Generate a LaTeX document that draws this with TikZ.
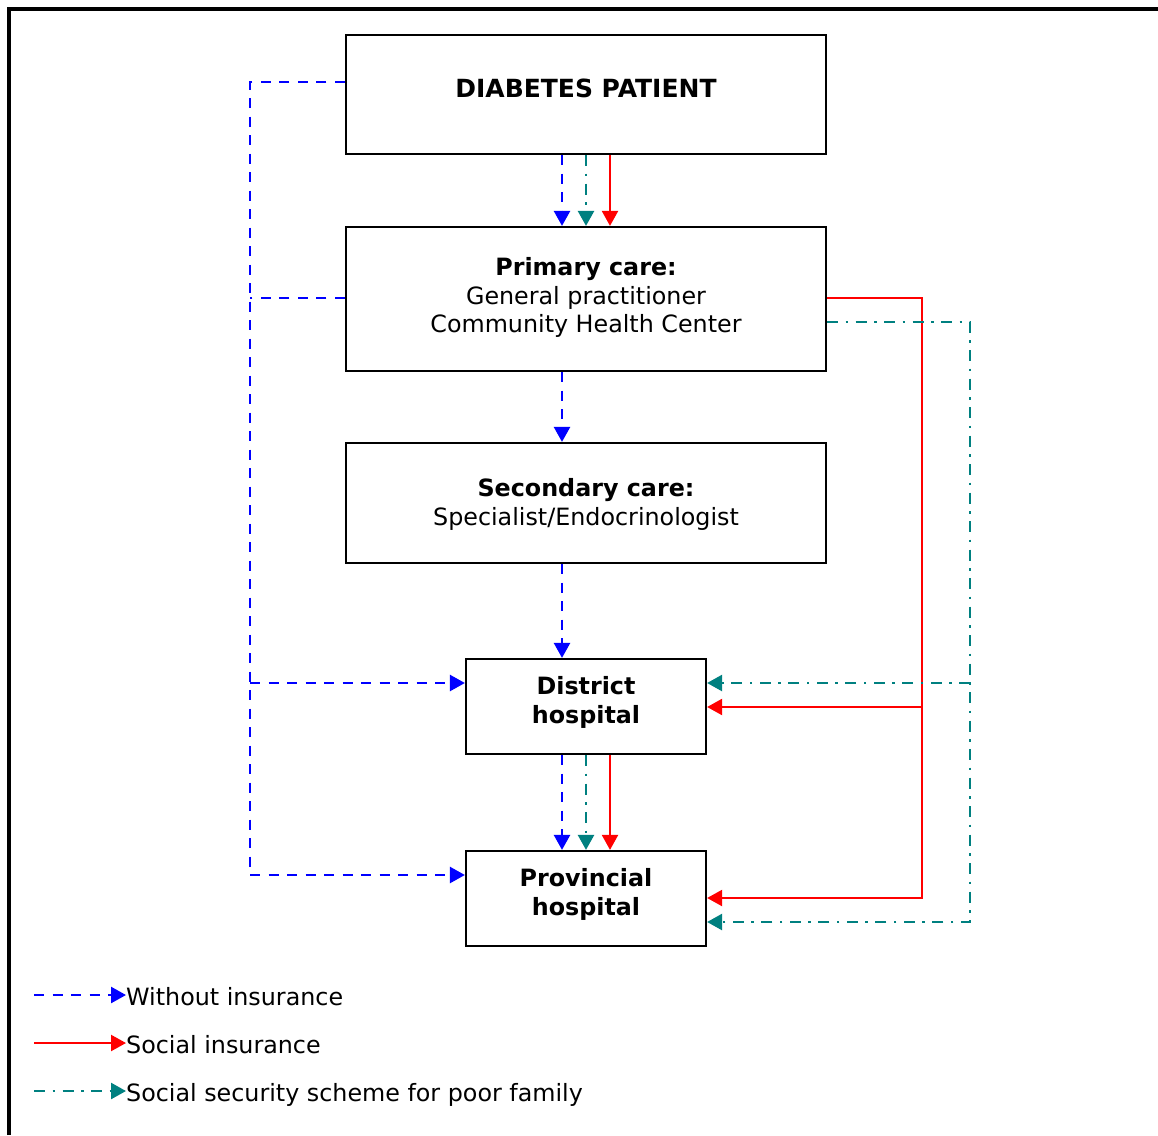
\documentclass[tikz,border=0pt]{standalone}
\usepackage{fontspec}
\setmainfont{DejaVu Sans}
\usetikzlibrary{arrows.meta}
\definecolor{tealc}{RGB}{0,128,128}
\newcommand\diafs{\fontsize{23.8}{28.8}\selectfont}
\begin{document}
\begin{tikzpicture}[x=1pt,y=-1pt,
  box/.style={draw=black,line width=2.2pt,inner sep=0pt,align=center,font=\diafs},
  wo/.style={blue,line width=2.5pt,dash pattern=on 10pt off 8.5pt},
  si/.style={red,line width=2.2pt},
  ss/.style={tealc,line width=2.5pt,dash pattern=on 11pt off 7.5pt on 2.5pt off 7.5pt},
  tip/.style={-{Triangle[length=15pt,width=16pt]}},
  legtext/.style={anchor=base west,inner sep=0pt,font=\diafs}]
\useasboundingbox (0,0) rectangle (1158,1135);
\fill[white] (0,0) rectangle (1158,1135);
% frame
\draw[line width=4pt] (8.5,1135) -- (8.5,8.5) -- (1158,8.5);
% boxes
\node[box,minimum width=480pt,minimum height=119pt,text depth=12.5pt] (dp) at (586,94.5) {\fontsize{25}{28.5}\selectfont\textbf{DIABETES PATIENT}};
\node[box,minimum width=480pt,minimum height=144pt,text depth=8pt] (pc) at (586,299) {\textbf{Primary care:}\\General practitioner\\Community Health Center};
\node[box,minimum width=480pt,minimum height=120pt,text depth=1.6pt] (sc) at (586,503) {\textbf{Secondary care:}\\Specialist/Endocrinologist};
\node[box,minimum width=240pt,minimum height=95pt,text depth=13.6pt] (dh) at (586,706.5) {\textbf{District}\\\textbf{hospital}};
\node[box,minimum width=240pt,minimum height=95pt,text depth=13.6pt] (ph) at (586,898.5) {\textbf{Provincial}\\\textbf{hospital}};
% vertical connectors
\draw[wo,tip] ([xshift=-24pt]dp.south) -- ([xshift=-24pt]pc.north);
\draw[ss,tip] (dp.south) -- (pc.north);
\draw[si,tip] ([xshift=24pt]dp.south) -- ([xshift=24pt]pc.north);
\draw[wo,tip] ([xshift=-24pt]pc.south) -- ([xshift=-24pt]sc.north);
\draw[wo,tip] ([xshift=-24pt]sc.south) -- ([xshift=-24pt]dh.north);
\draw[wo,tip] ([xshift=-24pt]dh.south) -- ([xshift=-24pt]ph.north);
\draw[ss,tip] (dh.south) -- (ph.north);
\draw[si,tip] ([xshift=24pt]dh.south) -- ([xshift=24pt]ph.north);
% left: without insurance
\coordinate (lt) at (250,82);
\coordinate (lp) at (250,298);
\coordinate (ld) at (250,683);
\coordinate (lb) at (250,875);
\draw[wo,tip] (dp.west |- lt) -- (lt) -- (lb) -- (ph.west |- lb);
\draw[wo] (pc.west |- lp) -- (lp);
\draw[wo,tip] (ld) -- (dh.west |- ld);
% right: social insurance
\coordinate (rt) at (922,298);
\coordinate (rd) at (922,707);
\coordinate (rb) at (922,898);
\draw[si,tip] (pc.east |- rt) -- (rt) -- (rb) -- (ph.east |- rb);
\draw[si,tip] (rd) -- (dh.east |- rd);
% right: social security scheme
\coordinate (tt) at (970,322);
\coordinate (td) at (970,683);
\coordinate (tb) at (970,922);
\draw[ss,tip] (pc.east |- tt) -- (tt) -- (tb) -- (ph.east |- tb);
\draw[ss,tip] (td) -- (dh.east |- td);
% legend
\node[legtext] (lg1) at (126,1005) {Without insurance};
\node[legtext] (lg2) at (126,1053) {Social insurance};
\node[legtext] (lg3) at (126,1101) {Social security scheme for poor family};
\coordinate (s1) at (34,995);
\coordinate (s2) at (34,1043);
\coordinate (s3) at (34,1091);
\draw[wo,tip] (s1) -- (s1 -| lg1.west);
\draw[si,tip] (s2) -- (s2 -| lg2.west);
\draw[ss,tip] (s3) -- (s3 -| lg3.west);
\end{tikzpicture}
\end{document}
